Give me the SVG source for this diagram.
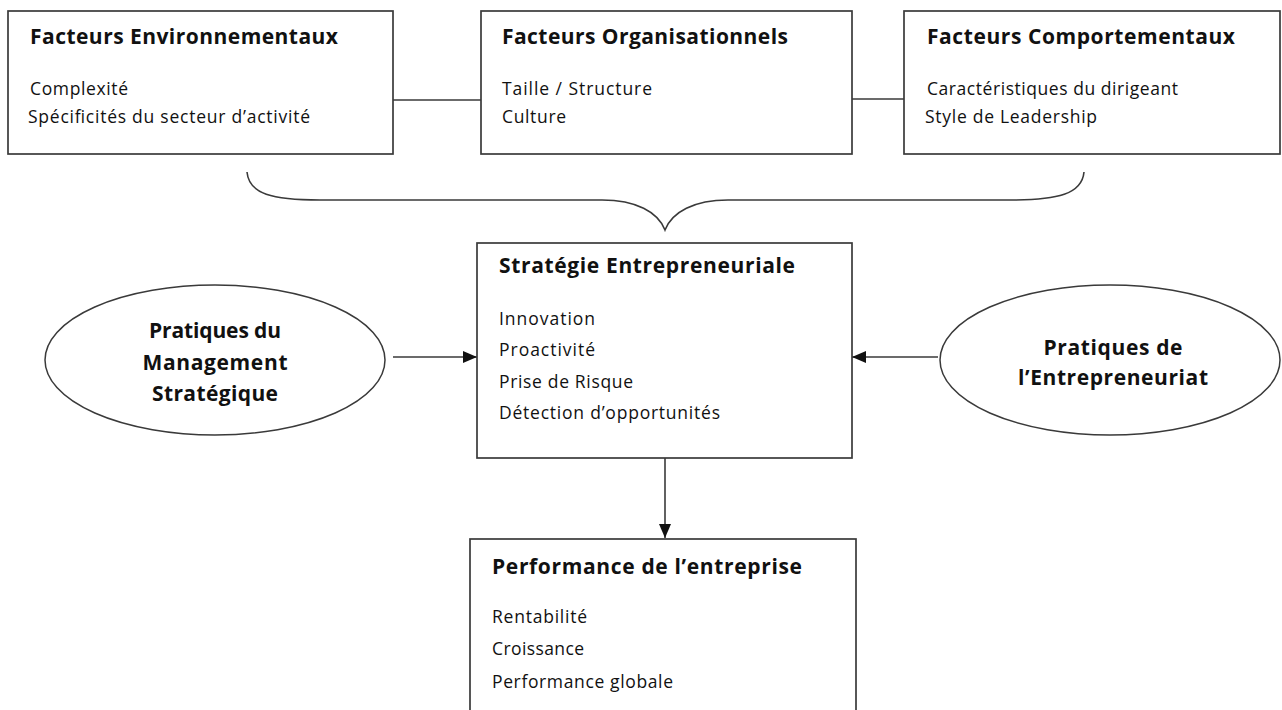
<svg xmlns="http://www.w3.org/2000/svg" width="1282" height="710" viewBox="0 0 1282 710">
<style>
.box{fill:#fff;stroke:#3a3a3a;stroke-width:1.7}
.ell{fill:#fff;stroke:#3a3a3a;stroke-width:1.5}
.ln{fill:none;stroke:#3a3a3a;stroke-width:1.6}
.t{font-family:"Open Sans","Liberation Sans",sans-serif;font-weight:700;font-size:21px;fill:#111}
.b{font-family:"Open Sans","Liberation Sans",sans-serif;font-size:17.5px;fill:#111}
.e{font-family:"Open Sans","Liberation Sans",sans-serif;font-weight:700;font-size:21px;fill:#111;text-anchor:middle}
</style>
<defs>
<marker id="arr" viewBox="0 0 14 12" refX="14" refY="6" markerWidth="14" markerHeight="12" markerUnits="userSpaceOnUse" orient="auto">
<path d="M0,0 L14,6 L0,12 z" fill="#111"/>
</marker>
</defs>
<g id="connectors">
<line class="ln" x1="393" y1="100" x2="481" y2="100"/>
<line class="ln" x1="852" y1="99" x2="904" y2="99"/>
<path class="ln" d="M247,172 C249,194 272,200 320,200 L602,200 C636,200 658,212 665,230 C672,212 694,200 728,200 L1010,200 C1058,200 1082,194 1084,172"/>
<line class="ln" x1="393" y1="357" x2="477" y2="357" marker-end="url(#arr)"/>
<line class="ln" x1="938" y1="357" x2="852" y2="357" marker-end="url(#arr)"/>
<line class="ln" x1="665" y1="458" x2="665" y2="538" marker-end="url(#arr)"/>
</g>
<g id="env">
<rect class="box" x="8" y="11" width="385" height="143"/>
<text class="t" x="30" y="44" textLength="308">Facteurs Environnementaux</text>
<text class="b" x="30" y="95" textLength="98">Complexité</text>
<text class="b" x="28" y="123" textLength="282">Spécificités du secteur d’activité</text>
</g>
<g id="org">
<rect class="box" x="481" y="11" width="371" height="143"/>
<text class="t" x="502" y="44" textLength="286">Facteurs Organisationnels</text>
<text class="b" x="502" y="95" textLength="150">Taille / Structure</text>
<text class="b" x="502" y="123" textLength="64">Culture</text>
</g>
<g id="comp">
<rect class="box" x="904" y="11" width="376" height="143"/>
<text class="t" x="927" y="44" textLength="308">Facteurs Comportementaux</text>
<text class="b" x="927" y="95" textLength="251">Caractéristiques du dirigeant</text>
<text class="b" x="925" y="123" textLength="172">Style de Leadership</text>
</g>
<g id="strategie">
<rect class="box" x="477" y="243" width="375" height="215"/>
<text class="t" x="499" y="273" textLength="296">Stratégie Entrepreneuriale</text>
<text class="b" x="499" y="325" textLength="96">Innovation</text>
<text class="b" x="499" y="356" textLength="96">Proactivité</text>
<text class="b" x="499" y="388" textLength="134">Prise de Risque</text>
<text class="b" x="499" y="419" textLength="221">Détection d’opportunités</text>
</g>
<g id="management">
<ellipse class="ell" cx="215" cy="360" rx="170" ry="75"/>
<text class="e" x="215" y="338" textLength="132">Pratiques du</text>
<text class="e" x="215" y="370" textLength="145">Management</text>
<text class="e" x="215" y="401" textLength="126">Stratégique</text>
</g>
<g id="entrepreneuriat">
<ellipse class="ell" cx="1110" cy="360" rx="170" ry="75"/>
<text class="e" x="1113" y="355" textLength="139">Pratiques de</text>
<text class="e" x="1113" y="385" textLength="190">l’Entrepreneuriat</text>
</g>
<g id="performance">
<rect class="box" x="470" y="539" width="386" height="190"/>
<text class="t" x="492" y="574" textLength="310">Performance de l’entreprise</text>
<text class="b" x="492" y="623" textLength="95">Rentabilité</text>
<text class="b" x="492" y="655" textLength="92">Croissance</text>
<text class="b" x="492" y="688" textLength="181">Performance globale</text>
</g>
</svg>
